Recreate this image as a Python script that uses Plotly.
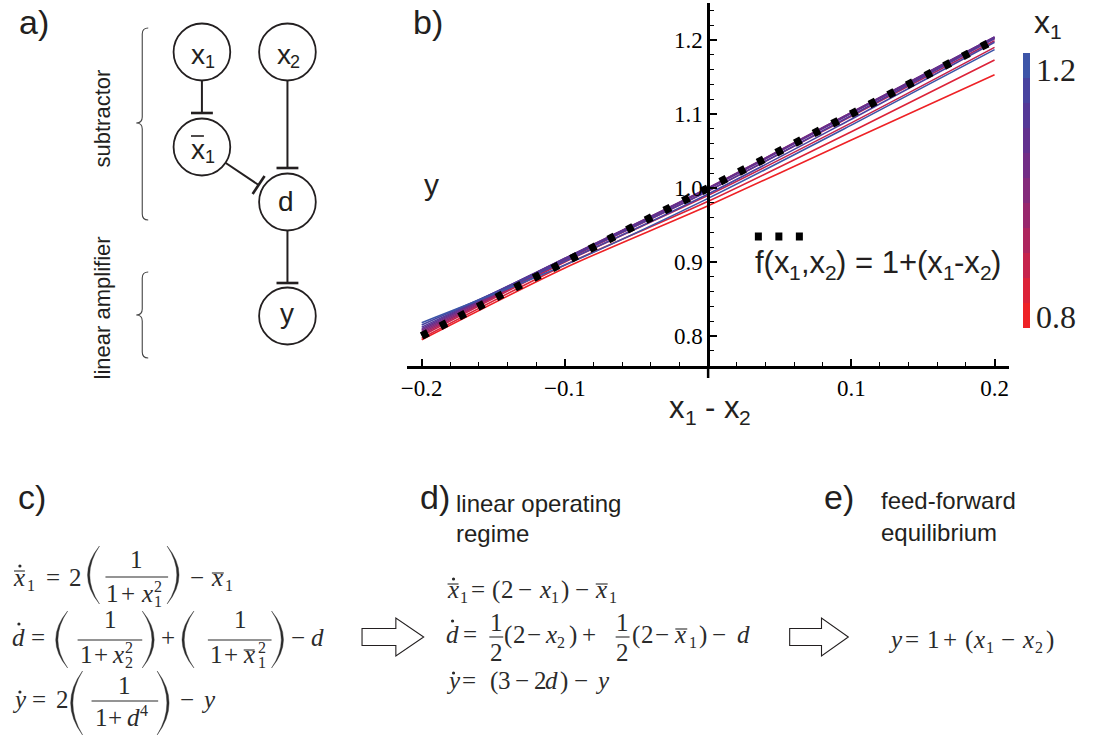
import plotly.graph_objects as go

W, H = 1094, 736
SANS = "Liberation Sans, Arial, sans-serif"
SERIF = "Liberation Serif, Times New Roman, serif"
INK = "#231f20"

# ---------------- panel b data ----------------
delta = [-0.2, -0.1, 0.0, 0.1, 0.2]          # x1 - x2
x1_levels = [0.80, 0.84, 0.88, 0.92, 0.96, 1.00, 1.04, 1.08, 1.12, 1.16, 1.20]
y_080 = [0.795, 0.892, 0.976, 1.065, 1.153]
y_084 = [0.797, 0.896, 0.982, 1.076, 1.173]
y_088 = [0.800, 0.900, 0.990, 1.088, 1.190]
y_092 = [0.802, 0.902, 0.996, 1.097, 1.199]
y_096 = [0.804, 0.903, 0.999, 1.101, 1.202]
y_100 = [0.806, 0.904, 1.000, 1.102, 1.203]
y_104 = [0.808, 0.905, 1.000, 1.102, 1.204]
y_108 = [0.810, 0.905, 0.999, 1.101, 1.204]
y_112 = [0.812, 0.904, 0.996, 1.098, 1.202]
y_116 = [0.815, 0.901, 0.992, 1.093, 1.197]
y_120 = [0.818, 0.896, 0.986, 1.085, 1.187]
level_curves = [y_080, y_084, y_088, y_092, y_096, y_100,
                y_104, y_108, y_112, y_116, y_120]
level_colors = ["#EE2226", "#DC2238", "#C6234C", "#AE255E", "#98276D", "#842A7B",
                "#722D86", "#62318F", "#543897", "#48439F", "#3D55A8"]

# feed-forward reference f(x1,x2) = 1 + (x1 - x2)
ff_delta = [-0.2, 0.2]
ff_y = [0.8, 1.2]

x_tickvals = [-0.2, -0.1, 0.1, 0.2]
x_ticktext = ["\u22120.2", "\u22120.1", "0.1", "0.2"]
y_tickvals = [0.8, 0.9, 1.0, 1.1, 1.2]
y_ticktext = ["0.8", "0.9", "1.0", "1.1", "1.2"]


# ---------------- helpers (pixel -> paper) ----------------
def px(x):
    return x / W


def py(y):
    return 1 - y / H


shapes, annos = [], []


def seg(x0, y0, x1, y1, w=2.0, color=INK, dash=None):
    ln = dict(color=color, width=w)
    if dash:
        ln["dash"] = dash
    shapes.append(dict(type="line", xref="paper", yref="paper",
                       x0=px(x0), y0=py(y0), x1=px(x1), y1=py(y1), line=ln))


def circle(cx, cy, r, w=1.8, fill=None, color=INK):
    d = dict(type="circle", xref="paper", yref="paper",
             x0=px(cx - r), x1=px(cx + r), y0=py(cy + r), y1=py(cy - r),
             line=dict(color=color, width=w))
    if fill:
        d["fillcolor"] = fill
    shapes.append(d)


def path(cmds, w=1.2, fill=None, color=INK):
    parts = []
    for c, pts in cmds:
        parts.append(c + " ".join(f"{px(x):.5f},{py(y):.5f}" for x, y in pts))
    d = dict(type="path", xref="paper", yref="paper", path=" ".join(parts),
             line=dict(color=color, width=w))
    if fill:
        d["fillcolor"] = fill
    shapes.append(d)


def text(x, y, s, size, fam=SANS, xa="center", ya="middle", color=INK, angle=0):
    annos.append(dict(x=px(x), y=py(y), xref="paper", yref="paper", text=s,
                      showarrow=False, xanchor=xa, yanchor=ya, textangle=angle,
                      borderpad=0, font=dict(family=fam, size=size, color=color)))


def stok(x, base, s, size, xa="left", color=INK):
    """sans-serif run placed by its baseline"""
    text(x, base - 0.3465 * size, s, size, SANS, xa=xa, color=color)


# Arial/Liberation Sans advance widths (em) for the glyphs used in inline runs
ADV = {"f": 0.278, "(": 0.333, ")": 0.333, "x": 0.5, ",": 0.278, " ": 0.278,
       "=": 0.584, "+": 0.584, "-": 0.333, "1": 0.556, "2": 0.556}


def run_width(parts):
    return sum(sum(ADV[c] for c in s) * size for s, size, _ in parts)


def seq(x, base, parts):
    """lay out sans runs (text, size, baseline shift) one after another"""
    for s, size, dy in parts:
        lead = len(s) - len(s.lstrip(" "))
        core = s.strip(" ")
        stok(x + lead * ADV[" "] * size, base + dy, core, size)
        x += sum(ADV[c] for c in s) * size
    return x


MS, SS = 25, 16   # math size, script size
MC = "#2b2b2b"


def tok(x, base, s, size=MS, xa="left"):
    text(x, base - 0.3375 * size, s, size, SERIF, xa=xa, color=MC)


def sub(x, base, s):
    tok(x, base + 5, s, SS)


def sup(x, base, s):
    tok(x, base - 10, s, SS)


def bar(x0, x1, y, w=1.1, color=MC):
    seg(x0, y, x1, y, w=w, color=color)


def dot(x, y, r=1.6):
    circle(x, y, r, w=0, fill=MC, color=MC)


def paren(xl, xr, yt, yb, left=True, t=2.2):
    ym = (yt + yb) / 2
    if left:
        path([("M", [(xr, yt)]), ("Q", [(2 * xl - xr, ym), (xr, yb)]),
              ("Q", [(2 * (xl + t) - xr, ym), (xr, yt)]), ("Z", [])],
             w=0.4, fill=MC, color=MC)
    else:
        path([("M", [(xl, yt)]), ("Q", [(2 * xr - xl, ym), (xl, yb)]),
              ("Q", [(2 * (xr - t) - xl, ym), (xl, yt)]), ("Z", [])],
             w=0.4, fill=MC, color=MC)


def arrow(x0, xh, xt, yc):
    pts = [(xh, yc - 8.5), (xh, yc - 19), (xt, yc), (xh, yc + 19),
           (xh, yc + 8.5), (x0, yc + 8.5)]
    cmds = [("M", [(x0, yc - 8.5)])] + [("L", [p]) for p in pts] + [("Z", [])]
    path(cmds, w=1.1, fill="white", color=INK)


# ---------------- panel a: network ----------------
R = 28.5
nodes = {"x1": (197, 52), "x2": (283, 52), "xb": (197, 147), "d": (283, 202), "y": (283, 316)}
for cx, cy in nodes.values():
    circle(cx, cy, R)


def node_label(cx, base, idx):
    parts = [("x", 28, 0), (idx, 18, 4)]
    seq(cx - run_width(parts) / 2, base, parts)


node_label(197, 64, "1")
node_label(283, 64, "2")
node_label(197, 159, "1")
bar(186, 199, 136, w=1.6, color=INK)
text(282, 202, "d", 28)
text(283, 314, "y", 28)

# inhibitory edges (T-bars)
seg(197, 81, 197, 113)
seg(186, 113, 208, 113, w=2.6)
seg(283, 81, 283, 168)
seg(272, 168, 294, 168, w=2.6)
seg(221, 163, 254, 185)
seg(248, 194, 260, 176, w=2.6)
seg(283, 231, 283, 283)
seg(272, 283, 294, 283, w=2.6)


# braces
def brace(top, bot, mid, x=137, tip=131, hook=143):
    path([("M", [(hook, top)]), ("Q", [(x, top), (x, top + 6)]),
          ("L", [(x, mid - 6)]), ("Q", [(x, mid), (tip, mid)]),
          ("Q", [(x, mid), (x, mid + 6)]), ("L", [(x, bot - 6)]),
          ("Q", [(x, bot), (hook, bot)])], w=1.1, color="#444")


brace(28, 220, 123)
brace(272, 358, 315)
text(97, 118, "subtractor", 22, angle=-90)
text(97, 308, "linear amplifier", 22, angle=-90)

# panel letters and headers
text(28, 22, "a)", 34)
text(424, 22, "b)", 34)
text(26, 497, "c)", 34)
text(431, 497, "d)", 34)
text(838, 497, "e)", 34)
text(451, 503, "linear operating", 24, xa="left")
text(451, 533, "regime", 24, xa="left")
text(879, 500, "feed-forward", 24, xa="left")
text(879, 532, "equilibrium", 24, xa="left")

# ---------------- panel c: full model ----------------
B = 586
tok(6, B, "<i>x</i>"); sub(20, B, "1"); bar(8, 19, 571); dot(14, 566)
tok(39, B, "="); tok(62, B, "2")
paren(82, 94, 546, 604, left=True)
tok(131, 568, "1", xa="center"); bar(100, 163, 577)
tok(100, 602, "1"); tok(115, 602, "+"); tok(135, 602, "<i>x</i>")
sup(148, 602, "2"); sub(148, 602, "1")
paren(162, 174, 546, 604, left=False)
tok(184, B, "\u2212"); tok(205, B, "<i>x</i>"); bar(207, 219, 573); sub(219, B, "1")

B = 646
tok(5, B, "<i>d</i>"); dot(13, 624)
tok(24, B, "="); paren(50, 62, 611, 668, left=True)
tok(105, 628, "1", xa="center"); bar(72, 137, 640)
tok(73, 663, "1"); tok(87, 663, "+"); tok(106, 663, "<i>x</i>")
sup(119, 663, "2"); sub(119, 663, "2")
paren(137, 149, 611, 668, left=False)
tok(155, B, "+"); paren(177, 189, 611, 668, left=True)
tok(236, 628, "1", xa="center"); bar(203, 267, 640)
tok(204, 663, "1"); tok(218, 663, "+"); tok(237, 663, "<i>x</i>"); bar(239, 250, 650)
sup(252, 663, "2"); sub(252, 663, "1")
paren(267, 279, 611, 668, left=False)
tok(286, B, "\u2212"); tok(306, B, "<i>d</i>")

B = 708
tok(5, B, "<i>y</i>"); dot(14, 692)
tok(25, B, "="); tok(49, B, "2"); paren(65, 77, 671, 735, left=True)
tok(119, 694, "1", xa="center"); bar(86, 153, 701)
tok(88, 726, "1"); tok(102, 726, "+"); tok(121, 726, "<i>d</i>"); sup(134, 726, "4")
paren(152, 164, 671, 735, left=False)
tok(174, B, "\u2212"); tok(195, B, "<i>y</i>")

arrow(358, 392, 420, 637)

# ---------------- panel d: linear operating regime ----------------
B = 598
tok(442, B, "<i>x</i>"); bar(444, 455, 584); dot(450, 579); sub(455, B, "1")
tok(467, B, "="); tok(488, B, "("); tok(497, B, "2"); tok(514, B, "\u2212")
tok(535, B, "<i>x</i>"); sub(547, B, "1"); tok(557, B, ")"); tok(571, B, "\u2212")
tok(591, B, "<i>x</i>"); bar(593, 605, 584); sub(605, B, "1")

B = 643
tok(441, B, "<i>d</i>"); dot(449, 621)
tok(459, B, "=")
tok(493, 631, "1", xa="center"); bar(486, 500, 637); tok(493, 661, "2", xa="center")
tok(500, B, "("); tok(509, B, "2"); tok(523, B, "\u2212"); tok(541, B, "<i>x</i>")
sub(553, B, "2"); tok(565, B, ")"); tok(578, B, "+")
tok(620, 631, "1", xa="center"); bar(613, 627, 637); tok(620, 661, "2", xa="center")
tok(628, B, "("); tok(637, B, "2"); tok(652, B, "\u2212"); tok(671, B, "<i>x</i>")
bar(673, 685, 629); sub(686, B, "1"); tok(696, B, ")"); tok(709, B, "\u2212")
tok(734, B, "<i>d</i>")

B = 689
tok(441, B, "<i>y</i>"); dot(450, 673)
tok(458, B, "="); tok(486, B, "("); tok(494, B, "3"); tok(511, B, "\u2212")
tok(530, B, "2"); tok(541, B, "<i>d</i>"); tok(556, B, ")"); tok(570, B, "\u2212")
tok(591, B, "<i>y</i>")

arrow(788, 820, 847, 637)

# ---------------- panel e: equilibrium ----------------
B = 648
tok(886, B, "<i>y</i>"); tok(903, B, "="); tok(925, B, "1"); tok(941, B, "+")
tok(963, B, "("); tok(971, B, "<i>x</i>"); sub(984, B, "1"); tok(999, B, "\u2212")
tok(1021, B, "<i>x</i>"); sub(1034, B, "2"); tok(1045, B, ")")

# ---------------- panel b: plot ----------------
fig = go.Figure()
for lvl, ys, col in zip(x1_levels, level_curves, level_colors):
    fig.add_trace(go.Scatter(x=delta, y=ys, mode="lines", name=f"x1 = {lvl:.2f}",
                             line=dict(color=col, width=1.6, shape="spline", smoothing=0.8),
                             showlegend=False, hoverinfo="skip"))

fig.add_trace(go.Scatter(x=ff_delta, y=ff_y, mode="lines", showlegend=False,
                         line=dict(color="black", width=8, dash="7px,14px"),
                         hoverinfo="skip"))

# colour key for x1 (stepped, one band per level)
n = len(x1_levels)
cscale = []
for i, col in enumerate(level_colors):
    cscale.append([i / n, col])
    cscale.append([(i + 1) / n, col])
fig.add_trace(go.Scatter(
    x=[None] * n, y=[None] * n, mode="markers", showlegend=False, hoverinfo="skip",
    marker=dict(color=x1_levels, colorscale=cscale, cmin=0.78, cmax=1.22, size=1,
                showscale=True,
                colorbar=dict(thickness=7, thicknessmode="pixels", len=275, lenmode="pixels",
                              x=px(1023), xanchor="left", xpad=0,
                              y=py(53), yanchor="top", ypad=0,
                              outlinewidth=0, showticklabels=False, ticks=""))))

# colour key title and end labels
seq(1033, 33, [("x", 32, 0), ("1", 21, 6)])
text(1035, 70, "1.2", 32, fam=SERIF, xa="left")
text(1035, 317, "0.8", 32, fam=SERIF, xa="left")

# legend glyph for the dotted line and its formula
seg(753, 236.5, 803, 236.5, w=8, color="black", dash="7px,13.5px")
FS, FSS, FD = 31, 21, 7
seq(752, 273, [("f(x", FS, 0), ("1", FSS, FD), (",x", FS, 0), ("2", FSS, FD),
               (") = 1+(x", FS, 0), ("1", FSS, FD), ("-x", FS, 0), ("2", FSS, FD),
               (")", FS, 0)])

# axis titles
text(428, 184, "y", 30)
seq(666, 418, [("x", 31, 0), ("1", 21, 7), (" - ", 31, 0), ("x", 31, 0), ("2", 21, 7)])

# y axis runs a little past the x axis
seg(706, 366, 706, 378, w=2.5, color="black")

tickfont = dict(family=SERIF, size=23, color="black")
minor = dict(ticks="inside", ticklen=4, tickwidth=1.2, tickcolor="black",
             tickmode="linear", tick0=0, dtick=0.02, showgrid=False)

fig.update_layout(
    width=W, height=H, autosize=False,
    margin=dict(l=0, r=0, t=0, b=0),
    paper_bgcolor="white", plot_bgcolor="white",
    showlegend=False,
    xaxis=dict(domain=[403.6 / W, 1008.4 / W], range=[-0.21, 0.21],
               showline=True, linecolor="black", linewidth=2.5,
               ticks="inside", ticklen=7, tickwidth=1.5, tickcolor="black",
               tickmode="array", tickvals=x_tickvals, ticktext=x_ticktext,
               tickfont=tickfont, showgrid=False, zeroline=False, minor=minor,
               anchor="y"),
    yaxis=dict(domain=[(H - 365.6) / H, (H - 3) / H], range=[0.76, 1.25],
               anchor="free", position=706 / W, side="left",
               showline=True, linecolor="black", linewidth=2.5,
               ticks="inside", ticklen=7, tickwidth=1.5, tickcolor="black",
               tickmode="array", tickvals=y_tickvals, ticktext=y_ticktext,
               tickfont=tickfont, showgrid=False, zeroline=False, minor=minor),
    shapes=shapes, annotations=annos,
)

fig.write_html("out.html")
